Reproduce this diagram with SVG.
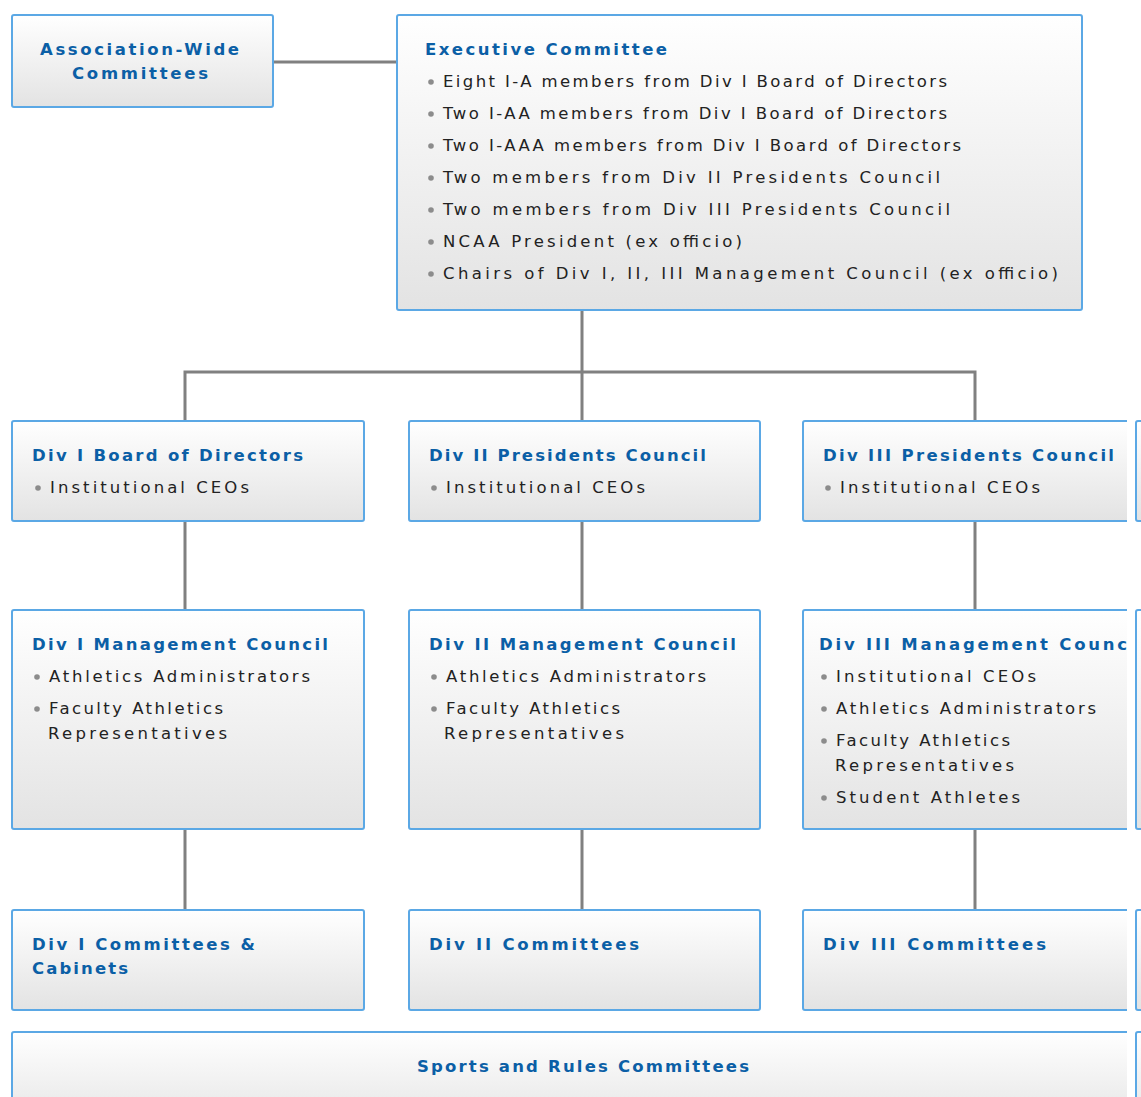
<svg xmlns="http://www.w3.org/2000/svg" width="1141" height="1097" viewBox="0 0 1141 1097">
<defs>
<linearGradient id="bg" x1="0" y1="0" x2="0" y2="1">
<stop offset="0" stop-color="#ffffff"/>
<stop offset="1" stop-color="#e3e3e3"/>
</linearGradient>
<clipPath id="clipR"><rect x="0" y="0" width="1127" height="1097"/></clipPath>
<style>
.box{fill:url(#bg);stroke:#5ba8e5;stroke-width:2;}
.t{font-family:"DejaVu Sans","Verdana",sans-serif;font-weight:bold;font-size:16.5px;fill:#0b5fa6;}
.b{font-family:"DejaVu Sans","Verdana",sans-serif;font-size:16.5px;fill:#222;}
.dot{fill:#8c8c8c;}
.con{stroke:#808080;stroke-width:3;fill:none;}
</style>
</defs>
<rect width="1141" height="1097" fill="#ffffff"/>

<g id="connectors">
<path class="con" d="M273 62 H397"/>
<path class="con" d="M582 310 V372 M185 421 V372 H975 V421 M582 372 V421"/>
<path class="con" d="M185 521 V610 M582 521 V610 M975 521 V610"/>
<path class="con" d="M185 829 V910 M582 829 V910 M975 829 V910"/>
</g>

<g id="assoc">
<rect class="box" x="12" y="15" width="261" height="92" rx="2"/>
<text class="t" x="40" y="55" textLength="199" lengthAdjust="spacing">Association-Wide</text>
<text class="t" x="72" y="79" textLength="136" lengthAdjust="spacing">Committees</text>
</g>

<g id="exec">
<rect class="box" x="397" y="15" width="685" height="295" rx="2"/>
<text class="t" x="425" y="55" textLength="242" lengthAdjust="spacing">Executive Committee</text>
<circle class="dot" cx="431" cy="82" r="2.8"/>
<text class="b" x="443" y="87" textLength="504" lengthAdjust="spacing">Eight I-A members from Div I Board of Directors</text>
<circle class="dot" cx="431" cy="114" r="2.8"/>
<text class="b" x="443" y="119" textLength="504" lengthAdjust="spacing">Two I-AA members from Div I Board of Directors</text>
<circle class="dot" cx="431" cy="146" r="2.8"/>
<text class="b" x="443" y="151" textLength="518" lengthAdjust="spacing">Two I-AAA members from Div I Board of Directors</text>
<circle class="dot" cx="431" cy="178" r="2.8"/>
<text class="b" x="443" y="183" textLength="497" lengthAdjust="spacing">Two members from Div II Presidents Council</text>
<circle class="dot" cx="431" cy="210" r="2.8"/>
<text class="b" x="443" y="215" textLength="507" lengthAdjust="spacing">Two members from Div III Presidents Council</text>
<circle class="dot" cx="431" cy="242" r="2.8"/>
<text class="b" x="443" y="247" textLength="299" lengthAdjust="spacing">NCAA President (ex officio)</text>
<circle class="dot" cx="431" cy="274" r="2.8"/>
<text class="b" x="443" y="279" textLength="615" lengthAdjust="spacing">Chairs of Div I, II, III Management Council (ex officio)</text>
</g>

<g id="d1board">
<rect class="box" x="12" y="421" width="352" height="100" rx="2"/>
<text class="t" x="32" y="461" textLength="271" lengthAdjust="spacing">Div I Board of Directors</text>
<circle class="dot" cx="38" cy="488" r="2.8"/>
<text class="b" x="50" y="493" textLength="199" lengthAdjust="spacing">Institutional CEOs</text>
</g>

<g id="d2pres">
<rect class="box" x="409" y="421" width="351" height="100" rx="2"/>
<text class="t" x="429" y="461" textLength="277" lengthAdjust="spacing">Div II Presidents Council</text>
<circle class="dot" cx="434" cy="488" r="2.8"/>
<text class="b" x="446" y="493" textLength="199" lengthAdjust="spacing">Institutional CEOs</text>
</g>

<g id="d3pres" clip-path="url(#clipR)">
<rect class="box" x="803" y="421" width="345" height="100" rx="2"/>
<text class="t" x="823" y="461" textLength="291" lengthAdjust="spacing">Div III Presidents Council</text>
<circle class="dot" cx="828" cy="488" r="2.8"/>
<text class="b" x="840" y="493" textLength="200" lengthAdjust="spacing">Institutional CEOs</text>
</g>

<g id="d1mgmt">
<rect class="box" x="12" y="610" width="352" height="219" rx="2"/>
<text class="t" x="32" y="650" textLength="296" lengthAdjust="spacing">Div I Management Council</text>
<circle class="dot" cx="37" cy="677" r="2.8"/>
<text class="b" x="49" y="682" textLength="261" lengthAdjust="spacing">Athletics Administrators</text>
<circle class="dot" cx="37" cy="709" r="2.8"/>
<text class="b" x="49" y="714" textLength="174" lengthAdjust="spacing">Faculty Athletics</text>
<text class="b" x="48" y="739" textLength="179" lengthAdjust="spacing">Representatives</text>
</g>

<g id="d2mgmt">
<rect class="box" x="409" y="610" width="351" height="219" rx="2"/>
<text class="t" x="429" y="650" textLength="307" lengthAdjust="spacing">Div II Management Council</text>
<circle class="dot" cx="434" cy="677" r="2.8"/>
<text class="b" x="446" y="682" textLength="260" lengthAdjust="spacing">Athletics Administrators</text>
<circle class="dot" cx="434" cy="709" r="2.8"/>
<text class="b" x="446" y="714" textLength="174" lengthAdjust="spacing">Faculty Athletics</text>
<text class="b" x="444" y="739" textLength="180" lengthAdjust="spacing">Representatives</text>
</g>

<g id="d3mgmt" clip-path="url(#clipR)">
<rect class="box" x="803" y="610" width="345" height="219" rx="2"/>
<text class="t" x="819" y="650" textLength="325" lengthAdjust="spacing">Div III Management Council</text>
<circle class="dot" cx="824" cy="677" r="2.8"/>
<text class="b" x="836" y="682" textLength="200" lengthAdjust="spacing">Institutional CEOs</text>
<circle class="dot" cx="824" cy="709" r="2.8"/>
<text class="b" x="836" y="714" textLength="260" lengthAdjust="spacing">Athletics Administrators</text>
<circle class="dot" cx="824" cy="741" r="2.8"/>
<text class="b" x="836" y="746" textLength="174" lengthAdjust="spacing">Faculty Athletics</text>
<text class="b" x="835" y="771" textLength="179" lengthAdjust="spacing">Representatives</text>
<circle class="dot" cx="824" cy="798" r="2.8"/>
<text class="b" x="836" y="803" textLength="184" lengthAdjust="spacing">Student Athletes</text>
</g>

<g id="d1comm">
<rect class="box" x="12" y="910" width="352" height="100" rx="2"/>
<text class="t" x="32" y="950" textLength="223" lengthAdjust="spacing">Div I Committees &amp;</text>
<text class="t" x="32" y="974" textLength="96" lengthAdjust="spacing">Cabinets</text>
</g>

<g id="d2comm">
<rect class="box" x="409" y="910" width="351" height="100" rx="2"/>
<text class="t" x="429" y="950" textLength="210" lengthAdjust="spacing">Div II Committees</text>
</g>

<g id="d3comm" clip-path="url(#clipR)">
<rect class="box" x="803" y="910" width="345" height="100" rx="2"/>
<text class="t" x="823" y="950" textLength="223" lengthAdjust="spacing">Div III Committees</text>
</g>

<g id="sports" clip-path="url(#clipR)">
<rect class="box" x="12" y="1032" width="1136" height="100" rx="2"/>
<text class="t" x="417" y="1072" textLength="332" lengthAdjust="spacing">Sports and Rules Committees</text>
</g>

<g id="offscreen">
<rect class="box" x="1136" y="421" width="40" height="100" rx="2"/>
<rect class="box" x="1136" y="610" width="40" height="219" rx="2"/>
<rect class="box" x="1136" y="910" width="40" height="100" rx="2"/>
<rect class="box" x="1136" y="1032" width="40" height="100" rx="2"/>
</g>
</svg>
